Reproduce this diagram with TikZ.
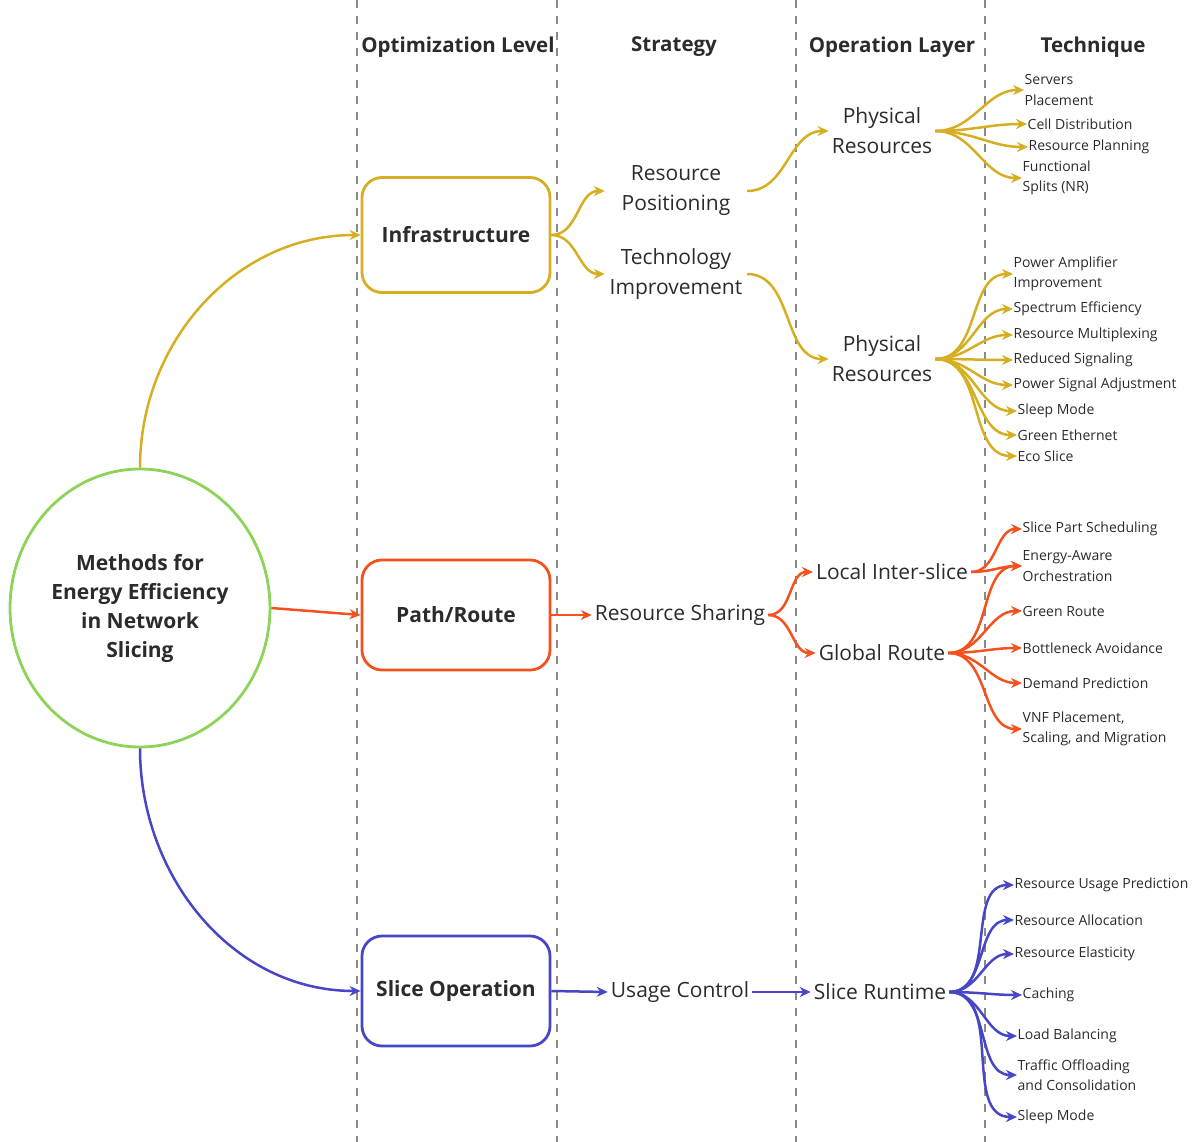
\documentclass[tikz,border=0pt]{standalone}
\usepackage{fontspec}
\setmainfont{Open Sans}
\usepackage{xcolor}
\usetikzlibrary{shapes.geometric,arrows.meta,positioning}
\definecolor{goldline}{HTML}{D6AE22}
\definecolor{redline}{HTML}{F4511E}
\definecolor{blueline}{HTML}{4646C6}
\definecolor{greenline}{HTML}{8CD35A}
\definecolor{gridline}{HTML}{8A8A8A}
\definecolor{txt}{HTML}{2B2B2B}

\begin{document}
\begin{tikzpicture}[x=1pt, y=-1pt,
  lane/.style={gridline, line width=2.2pt, dash pattern=on 8pt off 8pt},
  header/.style={font=\fontsize{20.5}{24}\selectfont\bfseries, text=txt},
  tier/.style={draw, rounded corners=20pt, line width=2.8pt, minimum width=188pt, minimum height=110pt, font=\fontsize{21}{26}\selectfont\bfseries, text=txt},
  phase/.style={align=center, font=\fontsize{21}{30}\selectfont, text=txt, inner xsep=3pt},
  tech/.style={anchor=west, align=left, font=\fontsize{14}{20.5}\selectfont, text=txt, inner xsep=0.5pt},
  flow/.style={line width=2.5pt, -{Stealth[length=11pt,width=10pt]}}]
  \useasboundingbox (0,0) rectangle (1197,1142);

  \foreach \x in {357,557,796,985}
    \draw[lane] (\x,0) -- (\x,1142);

  \node[header] (hlevel) at (458,47) {Optimization Level};
  \node[header] (hstrat) at (674,47) {Strategy};
  \node[header] (hlayer) at (892,47) {Operation Layer};
  \node[header] (htech) at (1093,47) {Technique};

  \node[ellipse, draw=greenline, line width=2.8pt, minimum width=254pt, minimum height=278pt, align=center, font=\fontsize{21}{29}\selectfont\bfseries, text=txt] (root) at (140,608) {Methods for\\Energy Efficiency\\in Network\\Slicing};

  \node[tier, draw=goldline, minimum height=115pt] (infra) at (456,235) {Infrastructure};
  \node[tier, draw=redline] (path) at (456,615) {Path/Route};
  \node[tier, draw=blueline] (sliceop) at (456,991) {Slice Operation};

  \node[phase, minimum width=142pt] (respos) at (676,191) {Resource\\Positioning};
  \node[phase, minimum width=142pt] (techimp) at (676,274) {Technology\\Improvement};
  \node[phase] (share) at (680,615) {Resource Sharing};
  \node[phase] (usage) at (680,992) {Usage Control};

  \node[phase, minimum width=102pt] (phys1) at (882,131) {Physical\\Resources};
  \node[phase, minimum width=102pt] (phys2) at (882,359) {Physical\\Resources};
  \node[phase] (local) at (892,572) {Local Inter-slice};
  \node[phase] (global) at (882,653) {Global Route};
  \node[phase] (runtime) at (880,992) {Slice Runtime};

  \node[tech] (t11) at (1024,90) {Servers\\Placement};
  \node[tech] (t12) at (1027,124) {Cell Distribution};
  \node[tech] (t13) at (1028,147) {Resource Planning};
  \node[tech] (t14) at (1022,178) {Functional\\Splits (NR)};

  \node[tech] (t21) at (1013,274) {Power Amplifier\\Improvement};
  \node[tech] (t22) at (1013,309) {Spectrum Efficiency};
  \node[tech] (t23) at (1013,335) {Resource Multiplexing};
  \node[tech] (t24) at (1013,360) {Reduced Signaling};
  \node[tech] (t25) at (1013,385) {Power Signal Adjustment};
  \node[tech] (t26) at (1017,411) {Sleep Mode};
  \node[tech] (t27) at (1017,435) {Green Ethernet};
  \node[tech] (t28) at (1017,456) {Eco Slice};

  \node[tech] (t31) at (1022,529) {Slice Part Scheduling};
  \node[tech] (t32) at (1022,566) {Energy-Aware\\Orchestration};
  \node[tech] (t33) at (1022,611) {Green Route};
  \node[tech] (t34) at (1022,648) {Bottleneck Avoidance};
  \node[tech] (t35) at (1022,683) {Demand Prediction};
  \node[tech] (t36) at (1022,729) {VNF Placement,\\Scaling, and Migration};

  \node[tech] (t41) at (1014,885) {Resource Usage Prediction};
  \node[tech] (t42) at (1014,920) {Resource Allocation};
  \node[tech] (t43) at (1014,954) {Resource Elasticity};
  \node[tech] (t44) at (1022,995) {Caching};
  \node[tech] (t45) at (1017,1036) {Load Balancing};
  \node[tech] (t46) at (1017,1075) {Traffic Offloading\\and Consolidation};
  \node[tech] (t47) at (1017,1117) {Sleep Mode};

  \draw[flow, goldline] (root.north) to[out=90, in=180] (infra.west);
  \draw[flow, redline] (root.east) -- (path.west);
  \draw[flow, blueline] (root.south) to[out=-90, in=180] (sliceop.west);

  \draw[flow, goldline] (infra.east) to[out=0, in=180] (respos.west);
  \draw[flow, goldline] (infra.east) to[out=0, in=180] (techimp.west);
  \draw[flow, redline] (path.east) -- (share.west);
  \draw[flow, blueline] (sliceop.east) -- (usage.west);

  \draw[flow, goldline] (respos.east) to[out=0, in=180] (phys1.west);
  \draw[flow, goldline] (techimp.east) to[out=0, in=180] (phys2.west);
  \draw[flow, redline] (share.east) to[out=0, in=180] (local.west);
  \draw[flow, redline] (share.east) to[out=0, in=180] (global.west);
  \draw[flow, blueline] (usage.east) -- (runtime.west);

  \foreach \t in {t11,t12,t13,t14}
    \draw[flow, goldline] (phys1.east) to[out=0, in=180] (\t.west);
  \foreach \t in {t21,t22,t23,t24,t25,t26,t27,t28}
    \draw[flow, goldline] (phys2.east) to[out=0, in=180] (\t.west);
  \foreach \t in {t31,t32}
    \draw[flow, redline] (local.east) to[out=0, in=180] (\t.west);
  \foreach \t in {t32,t33,t34,t35,t36}
    \draw[flow, redline] (global.east) to[out=0, in=180] (\t.west);
  \foreach \t in {t41,t42,t43,t44,t45,t46,t47}
    \draw[flow, blueline] (runtime.east) to[out=0, in=180] (\t.west);
\end{tikzpicture}
\end{document}
